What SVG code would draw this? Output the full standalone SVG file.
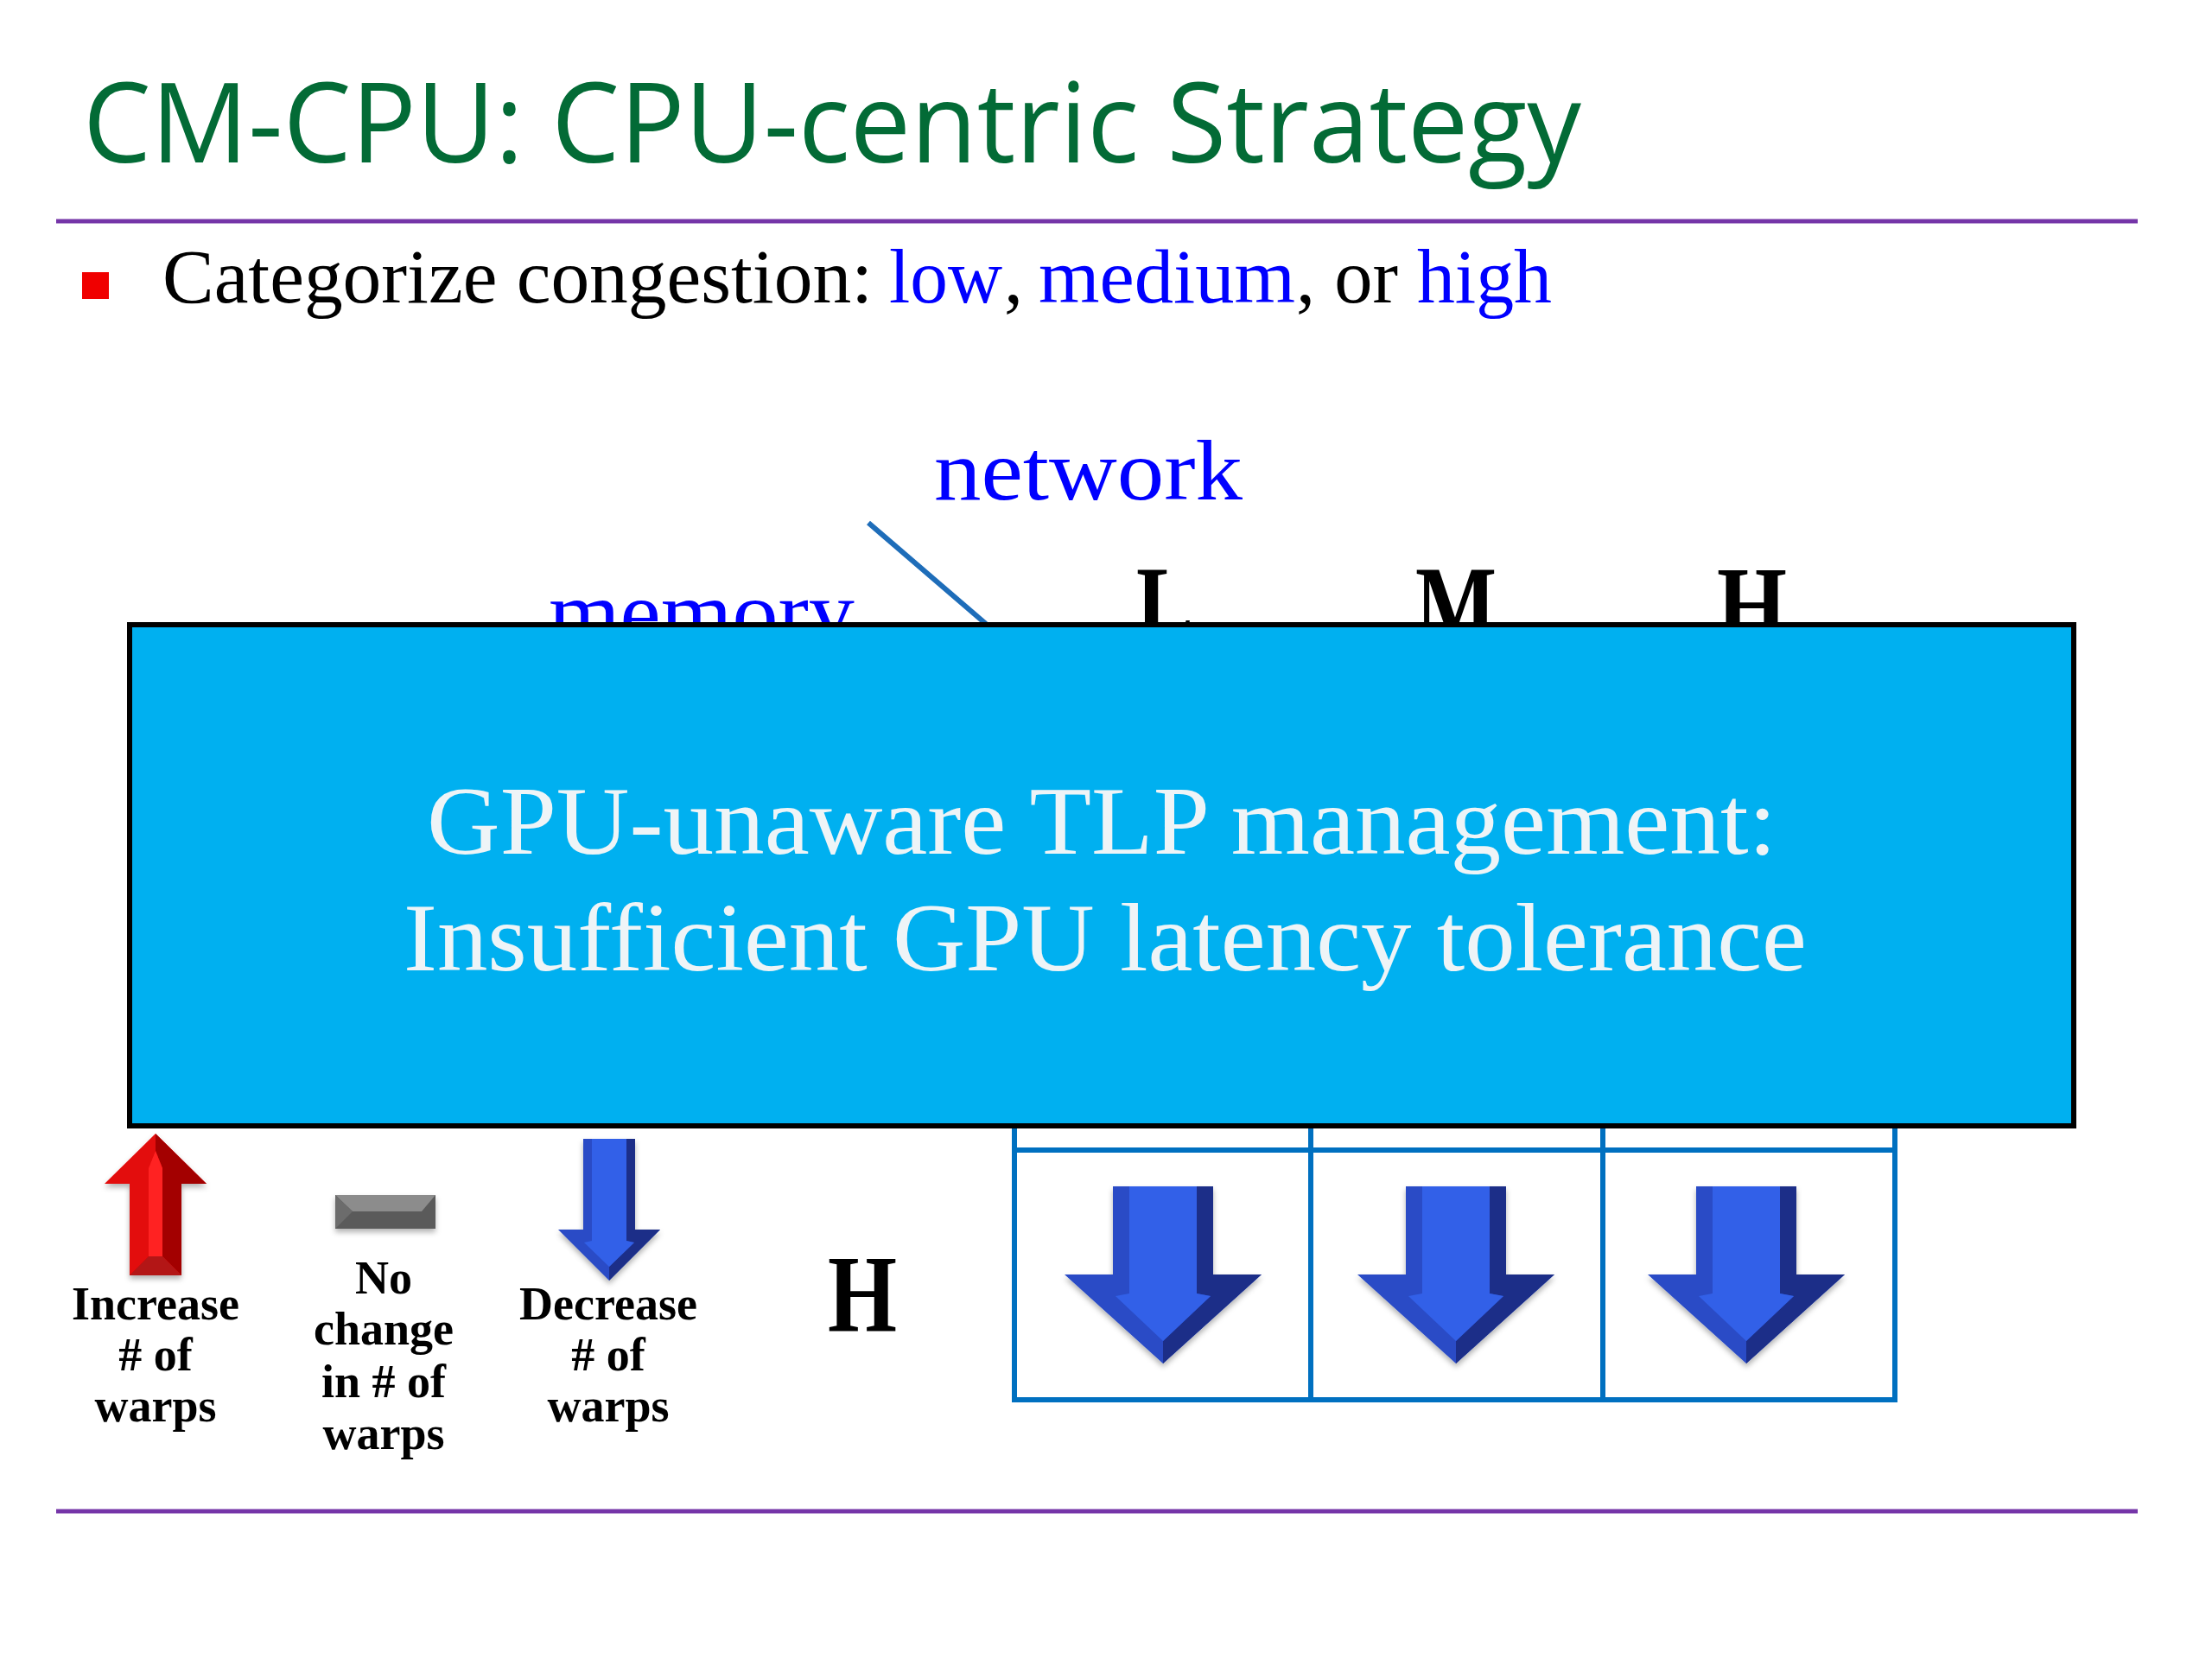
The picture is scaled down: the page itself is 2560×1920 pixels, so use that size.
<svg xmlns="http://www.w3.org/2000/svg" width="2560" height="1920" viewBox="0 0 2560 1920">
  <defs>
    <style>
      .serif { font-family: "Liberation Serif", "DejaVu Serif", serif; }
      .blue { fill: #0000FF; }
      .lbl { font-family: "Liberation Serif", "DejaVu Serif", serif; font-weight: bold; font-size: 54px; fill: #000; text-anchor: middle; }
      .hdr { font-family: "Liberation Serif", "DejaVu Serif", serif; font-weight: bold; font-size: 128px; fill: #000; }
      .grid { stroke: #0070C0; stroke-width: 6; fill: none; }
      .rule { stroke: #7535A8; stroke-width: 5; }
    </style>
    <filter id="shadow" x="-30%" y="-30%" width="160%" height="160%">
      <feDropShadow dx="0" dy="4" stdDeviation="3" flood-color="#000" flood-opacity="0.3"/>
    </filter>
    <g id="bigDown">
      <polygon points="-58,0 58,0 58,102 114,102 0,205 -114,102 -58,102" fill="#2A4CC6"/>
      <polygon points="39,0 58,0 58,102 114,102 0,205 0,179 55,127 39,124" fill="#1C2F88"/>
      <polygon points="-39,0 39,0 39,124 55,127 0,179 -55,127 -39,124" fill="#3160E8"/>
    </g>
    <g id="smallDown">
      <polygon points="-30,0 30,0 30,105 59,105 0,164 -59,105 -30,105" fill="#2A4CC6"/>
      <polygon points="20,0 30,0 30,105 59,105 0,164 0,148 29,120 20,118" fill="#1C2F88"/>
      <polygon points="-20,0 20,0 20,118 29,120 0,148 -29,120 -20,118" fill="#3160E8"/>
    </g>
  </defs>

  <rect x="0" y="0" width="2560" height="1920" fill="#FFFFFF"/>

  <g id="title">
    <text x="96" y="188" font-family="'Open Sans', 'Noto Sans', 'DejaVu Sans', sans-serif" font-size="128" fill="#036B36" textLength="1734" lengthAdjust="spacingAndGlyphs">CM-CPU: CPU-centric Strategy</text>
  </g>
  <line class="rule" x1="65" y1="256" x2="2474" y2="256"/>

  <g id="bullet">
    <rect x="95" y="315" width="31" height="31" fill="#F00000"/>
    <text class="serif" x="188" y="350" font-size="88" fill="#000" textLength="822" lengthAdjust="spacingAndGlyphs">Categorize congestion:</text>
    <text class="serif blue" x="1029" y="350" font-size="88" textLength="131" lengthAdjust="spacingAndGlyphs">low</text>
    <text class="serif" x="1162" y="350" font-size="88" fill="#000">,</text>
    <text class="serif blue" x="1202" y="350" font-size="88" textLength="297" lengthAdjust="spacingAndGlyphs">medium</text>
    <text class="serif" x="1500" y="350" font-size="88" fill="#000" textLength="118" lengthAdjust="spacingAndGlyphs">, or</text>
    <text class="serif blue" x="1640" y="350" font-size="88" textLength="156" lengthAdjust="spacingAndGlyphs">high</text>
  </g>

  <g id="table">
    <text class="serif blue" x="1081" y="578" font-size="100" textLength="357" lengthAdjust="spacingAndGlyphs">network</text>
    <text class="serif blue" x="635" y="742" font-size="100" textLength="354" lengthAdjust="spacingAndGlyphs">memory</text>
    <text class="hdr" x="1315" y="743" textLength="66" lengthAdjust="spacingAndGlyphs">L</text>
    <text class="hdr" x="1638" y="743" textLength="94" lengthAdjust="spacingAndGlyphs">M</text>
    <text class="hdr" x="1987" y="743" textLength="81" lengthAdjust="spacingAndGlyphs">H</text>
    <text class="hdr" x="958" y="1540" textLength="80" lengthAdjust="spacingAndGlyphs">H</text>
    <g id="grid">
      <line class="grid" x1="1174" y1="1200" x2="1174" y2="1623"/>
      <line class="grid" x1="1517" y1="1200" x2="1517" y2="1623"/>
      <line class="grid" x1="1855" y1="1200" x2="1855" y2="1623"/>
      <line class="grid" x1="2193" y1="1200" x2="2193" y2="1623"/>
      <line class="grid" x1="1171" y1="1331" x2="2196" y2="1331"/>
      <line class="grid" x1="1171" y1="1620" x2="2196" y2="1620"/>
    </g>
    <g id="cell-arrows" filter="url(#shadow)">
      <use href="#bigDown" transform="translate(1346,1373)"/>
      <use href="#bigDown" transform="translate(1685,1373)"/>
      <use href="#bigDown" transform="translate(2021,1373)"/>
    </g>
  </g>

  <g id="connectors">
    <line x1="1005" y1="605" x2="1141" y2="722" stroke="#1E6DB9" stroke-width="6"/>
  </g>

  <g id="overlay-box">
    <rect x="150" y="723" width="2250" height="580" fill="#00B0F0" stroke="#000" stroke-width="6"/>
    <text class="serif" x="1275" y="988" font-size="113" fill="#EEF4F7" text-anchor="middle" textLength="1562" lengthAdjust="spacingAndGlyphs">GPU-unaware TLP management:</text>
    <text class="serif" x="1279" y="1123" font-size="113" fill="#EEF4F7" text-anchor="middle" textLength="1624" lengthAdjust="spacingAndGlyphs">Insufficient GPU latency tolerance</text>
  </g>

  <g id="legend-increase">
    <g filter="url(#shadow)" transform="translate(180,1312)">
      <polygon points="0,0 59,58 30,58 30,164 -30,164 -30,58 -59,58" fill="#E30A0A"/>
      <polygon points="0,0 59,58 30,58 30,164 8,142 8,40 0,20" fill="#A30404"/>
      <polygon points="0,20 8,40 8,142 -8,142 -8,40" fill="#FF2222"/>
      <polygon points="-30,164 30,164 8,142 -8,142" fill="#B31212"/>
    </g>
    <text class="lbl" x="180" y="1527">Increase</text>
    <text class="lbl" x="180" y="1586"># of</text>
    <text class="lbl" x="180" y="1645">warps</text>
  </g>

  <g id="legend-nochange">
    <g filter="url(#shadow)">
      <rect x="388" y="1383" width="116" height="39" fill="#5A5A5A"/>
      <polygon points="388,1383 504,1383 488,1402 408,1402" fill="#8C8C8C"/>
      <polygon points="388,1383 408,1402 388,1422" fill="#6C6C6C"/>
    </g>
    <text class="lbl" x="444" y="1497">No</text>
    <text class="lbl" x="444" y="1556">change</text>
    <text class="lbl" x="444" y="1617">in # of</text>
    <text class="lbl" x="444" y="1677">warps</text>
  </g>

  <g id="legend-decrease">
    <g filter="url(#shadow)">
      <use href="#smallDown" transform="translate(705,1318)"/>
    </g>
    <text class="lbl" x="704" y="1527">Decrease</text>
    <text class="lbl" x="704" y="1586"># of</text>
    <text class="lbl" x="704" y="1645">warps</text>
  </g>

  <line class="rule" x1="65" y1="1749" x2="2474" y2="1749"/>
</svg>
